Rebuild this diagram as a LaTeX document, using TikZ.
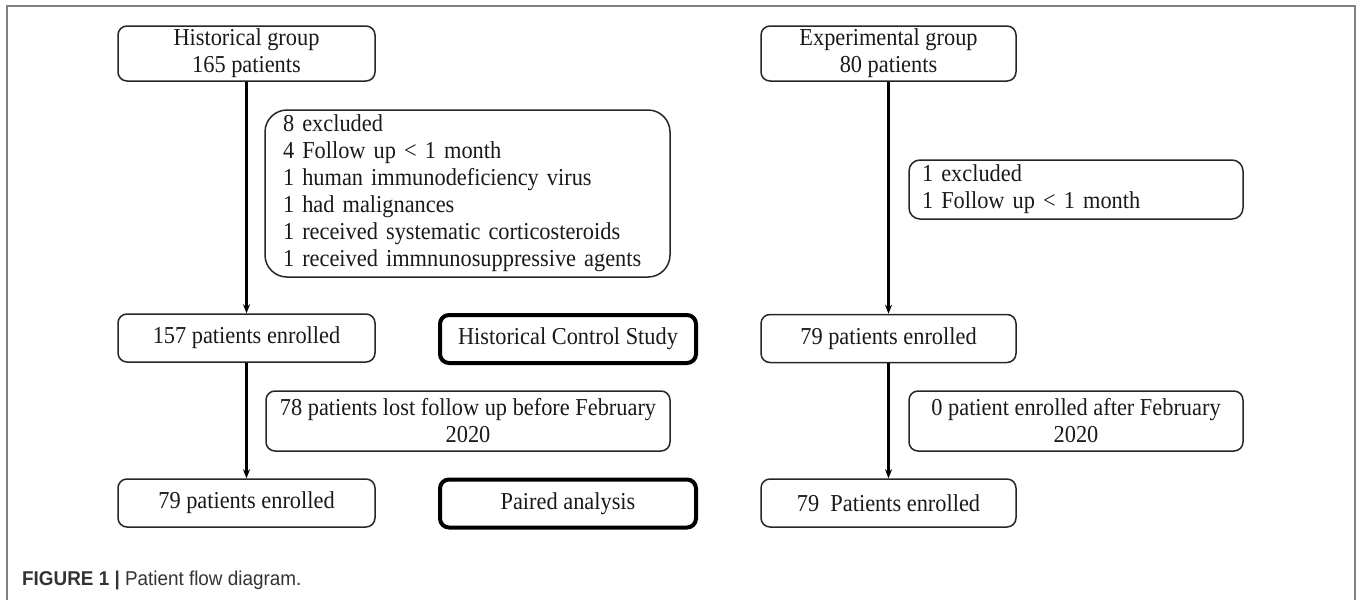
\documentclass[tikz,border=0pt]{standalone}
\usepackage{fontspec}
\usepackage{graphicx}
\setmainfont{Liberation Serif}[FakeStretch=0.92]
\newfontfamily\capfont{Liberation Sans}
\usetikzlibrary{arrows.meta}
\begin{document}
\begin{tikzpicture}[x=1pt,y=-1pt,
  every node/.style={font=\fontsize{24.3}{27}\selectfont, text=black!90},
  box/.style={draw=black!85, line width=1.5pt, rounded corners=9pt, inner sep=0pt, align=center, anchor=center},
  thickbox/.style={box, draw=black, line width=4pt},
  listbox/.style={draw=black!85, line width=1.5pt, inner ysep=0pt, align=left, anchor=center},
  flow/.style={line width=2.2pt, -{Stealth[length=9pt,width=7pt]}},
  frame/.style={draw=gray, line width=1.8pt}
]
\useasboundingbox (0,0) rectangle (1357,600);
\draw[frame] (7,600) -- (7,6) -- (1355,6) -- (1355,600);

% left column
\node[box, minimum width=257pt, minimum height=55pt] (hg) at (246.5,53.5) {Historical group\\165 patients};
\node[box, minimum width=257pt, minimum height=48pt] (l157) at (246.5,338) {157 patients enrolled};
\node[box, minimum width=257pt, minimum height=48pt] (l79) at (246.5,503) {79 patients enrolled};

\node[listbox, rounded corners=22pt, inner xsep=18pt, text width=369pt, minimum height=167pt] (ex1) at (467.5,193.5)
 {8 excluded\\4 Follow up < 1 month\\1 human immunodeficiency virus\\1 had malignances\\1 received systematic corticosteroids\\1 received immnunosuppressive agents};
\node[box, minimum width=404pt, minimum height=60pt] (l78) at (468,421) {78 patients lost follow up before February\\2020};

% middle
\node[thickbox, minimum width=256pt, minimum height=48pt] (hcs) at (568,339) {Historical Control Study};
\node[thickbox, minimum width=256pt, minimum height=48pt] (pa) at (568,503.5) {Paired analysis};

% right column
\node[box, minimum width=255pt, minimum height=55pt] (eg) at (888.5,53.5) {Experimental group\\80 patients};
\node[box, minimum width=255pt, minimum height=48pt] (r79a) at (888.5,338.5) {79 patients enrolled};
\node[box, minimum width=255pt, minimum height=48pt] (r79b) at (888.5,503) {79~~Patients enrolled};

\node[listbox, rounded corners=11pt, inner xsep=13pt, text width=308pt, minimum height=59pt] (ex2) at (1076,189.5)
 {1 excluded\\1 Follow up < 1 month};
\node[box, minimum width=334pt, minimum height=60pt] (r0) at (1076,421) {0 patient enrolled after February\\2020};

% connectors
\draw[flow] (hg.south) -- (l157.north);
\draw[flow] (l157.south) -- (l79.north);
\draw[flow] (eg.south) -- (r79a.north);
\draw[flow] (r79a.south) -- (r79b.north);

% caption
\node[anchor=west, inner sep=0pt, text=black!80] (cap) at (22,580)
 {\scalebox{0.944}[1]{\capfont\fontsize{20}{22}\selectfont\textbf{FIGURE 1 |} Patient flow diagram.}};
\end{tikzpicture}
\end{document}
